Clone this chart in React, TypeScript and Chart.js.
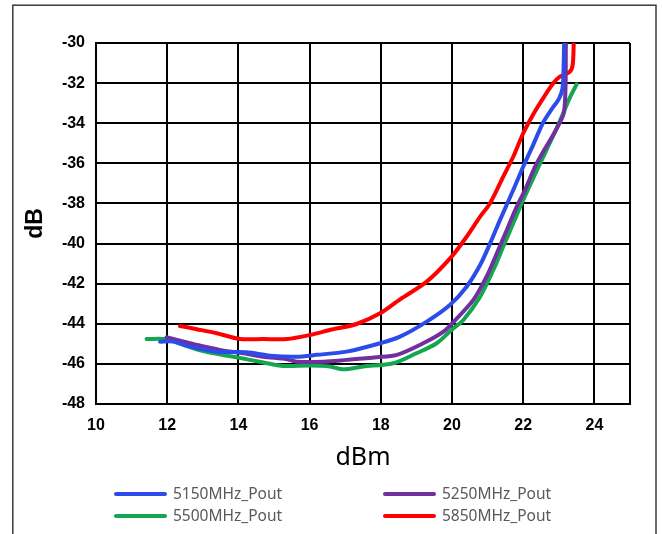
import React, { useEffect, useRef } from 'react';
import { Chart, registerables } from 'chart.js';

Chart.register(...registerables);

const seriesNames = ['5150MHz_Pout', '5250MHz_Pout', '5500MHz_Pout', '5850MHz_Pout'];
const seriesColors = ['#2B4CEB', '#7030A0', '#14A650', '#FF0000'];

const x5150 = [11.8, 12.17, 12.64, 13.39, 14.23, 14.89, 15.64, 16.2, 17.04, 17.98, 18.54, 19.29, 19.94, 20.41, 20.79, 21.07, 21.35, 21.72, 22.0, 22.28, 22.55, 22.8, 23.0, 23.1, 23.13, 23.15];
const y5150 = [-44.89, -44.89, -45.14, -45.39, -45.42, -45.59, -45.64, -45.55, -45.39, -44.97, -44.64, -43.89, -43.06, -42.15, -41.07, -39.99, -38.82, -37.33, -36.17, -35.08, -34.0, -33.3, -32.8, -32.3, -31.5, -30.0];

const x5250 = [11.98, 12.36, 12.83, 13.48, 14.14, 14.7, 15.36, 15.64, 16.39, 17.04, 17.88, 18.45, 19.19, 19.76, 20.1, 20.6, 20.97, 21.26, 21.54, 21.82, 22.05, 22.35, 22.6, 22.9, 23.15, 23.2];
const y5250 = [-44.67, -44.84, -45.05, -45.3, -45.47, -45.64, -45.77, -45.89, -45.89, -45.8, -45.67, -45.55, -44.97, -44.39, -43.8, -42.81, -41.65, -40.48, -39.32, -38.16, -37.33, -36.1, -35.3, -34.4, -33.4, -30.0];

const x5500 = [11.42, 11.98, 12.45, 13.1, 13.95, 14.7, 15.26, 16.01, 16.57, 16.95, 17.5, 18.35, 19.0, 19.57, 20.04, 20.32, 20.79, 21.16, 21.44, 21.72, 22.0, 22.45, 22.85, 23.1, 23.3, 23.5];
const y5500 = [-44.76, -44.77, -45.05, -45.4, -45.67, -45.93, -46.1, -46.08, -46.13, -46.27, -46.13, -45.97, -45.47, -44.97, -44.22, -43.81, -42.65, -41.32, -40.15, -38.99, -37.83, -36.1, -34.6, -33.6, -32.76, -32.06];

const x5850 = [12.36, 12.83, 13.39, 14.04, 14.7, 15.36, 16.01, 16.57, 17.32, 17.98, 18.54, 19.29, 19.99, 20.41, 20.79, 21.07, 21.44, 21.72, 22.0, 22.3, 22.59, 22.85, 23.03, 23.31, 23.39, 23.42];
const y5850 = [-44.11, -44.27, -44.47, -44.76, -44.76, -44.76, -44.56, -44.31, -44.01, -43.48, -42.78, -41.9, -40.65, -39.66, -38.66, -37.99, -36.66, -35.67, -34.5, -33.5, -32.67, -32.0, -31.68, -31.43, -31.1, -30.0];

const xTickValues = [10, 12, 14, 16, 18, 20, 22, 24];
const xMin = 10;
const xMax = 25;
const yMin = -48;
const yMax = -30;
const yStep = 2;

const seriesX = [x5150, x5250, x5500, x5850];
const seriesY = [y5150, y5250, y5500, y5850];

const legendPositions = [
  [114, 494],
  [383, 494],
  [114, 516],
  [383, 516],
];

const decorPlugin = {
  id: 'decor',
  beforeDraw(chart: any) {
    const ctx = chart.ctx;
    ctx.save();
    ctx.fillStyle = '#ffffff';
    ctx.fillRect(0, 0, chart.width, chart.height);
    ctx.strokeStyle = '#3c3c3c';
    ctx.lineWidth = 1.5;
    ctx.strokeRect(12.8, 5.2, 643.2, 600);
    ctx.restore();
  },
  afterDraw(chart: any) {
    const ctx = chart.ctx;
    chart.data.datasets.forEach((ds: any, i: number) => {
      const [x, y] = legendPositions[i];
      ctx.save();
      ctx.strokeStyle = ds.borderColor;
      ctx.lineWidth = 4;
      ctx.lineCap = 'round';
      ctx.beginPath();
      ctx.moveTo(x + 2, y);
      ctx.lineTo(x + 51, y);
      ctx.stroke();
      ctx.fillStyle = '#595959';
      ctx.font = '15.5px "Noto Sans"';
      ctx.textBaseline = 'middle';
      ctx.textAlign = 'left';
      ctx.fillText(ds.label, x + 59, y + 1);
      ctx.restore();
    });
  },
};

export default function App() {
  const canvasRef = useRef<HTMLCanvasElement | null>(null);

  useEffect(() => {
    if (!canvasRef.current) return;
    const datasets = seriesNames.map((name, i) => ({
      label: name,
      data: seriesX[i].map((x, j) => ({ x, y: seriesY[i][j] })),
      borderColor: seriesColors[i],
      backgroundColor: seriesColors[i],
      borderWidth: 4,
      pointRadius: 0,
      pointHoverRadius: 0,
      showLine: true,
      tension: 0.3,
      fill: false,
      borderCapStyle: 'round' as const,
      borderJoinStyle: 'round' as const,
    }));

    const chart = new Chart(canvasRef.current, {
      type: 'scatter',
      data: { datasets },
      plugins: [decorPlugin],
      options: {
        animation: false,
        responsive: false,
        devicePixelRatio: 1,
        events: [],
        layout: { padding: { left: 0, right: 32, top: 43, bottom: 54 } },
        plugins: {
          legend: { display: false },
          tooltip: { enabled: false },
          title: { display: false },
        },
        scales: {
          x: {
            type: 'linear',
            min: xMin,
            max: xMax,
            afterBuildTicks: (s: any) => {
              s.ticks = [...xTickValues, xMax].map((v) => ({ value: v }));
            },
            afterFit: (s: any) => {
              s.height = 76;
            },
            ticks: {
              color: '#000',
              padding: 12,
              maxRotation: 0,
              autoSkip: false,
              font: { family: '"Liberation Sans", Arial, sans-serif', size: 16, weight: 'bold' },
              callback: (v: any) => (xTickValues.includes(Number(v)) ? String(v) : ''),
            },
            grid: { color: '#000', lineWidth: 2, drawTicks: false },
            border: { display: true, color: '#000', width: 2 },
            title: {
              display: true,
              text: 'dBm',
              color: '#000',
              font: { family: '"Noto Sans", sans-serif', size: 25, weight: 'normal' },
              padding: { top: 0, bottom: 7 },
            },
          },
          y: {
            type: 'linear',
            min: yMin,
            max: yMax,
            afterFit: (s: any) => {
              s.width = 96;
            },
            ticks: {
              stepSize: yStep,
              color: '#000',
              padding: 11,
              font: { family: '"Liberation Sans", Arial, sans-serif', size: 16, weight: 'bold' },
            },
            grid: { color: '#000', lineWidth: 2, drawTicks: false },
            border: { display: true, color: '#000', width: 2 },
            title: {
              display: true,
              text: 'dB',
              color: '#000',
              font: { family: '"Liberation Sans", Arial, sans-serif', size: 23, weight: 'bold' },
              padding: { top: 22, bottom: 0 },
            },
          },
        },
      },
    });
    return () => chart.destroy();
  }, []);

  return (
    <div style={{ position: 'absolute', left: 0, top: 0, width: 662, height: 534 }}>
      <canvas ref={canvasRef} width={662} height={534} style={{ display: 'block', width: 662, height: 534 }} />
    </div>
  );
}
